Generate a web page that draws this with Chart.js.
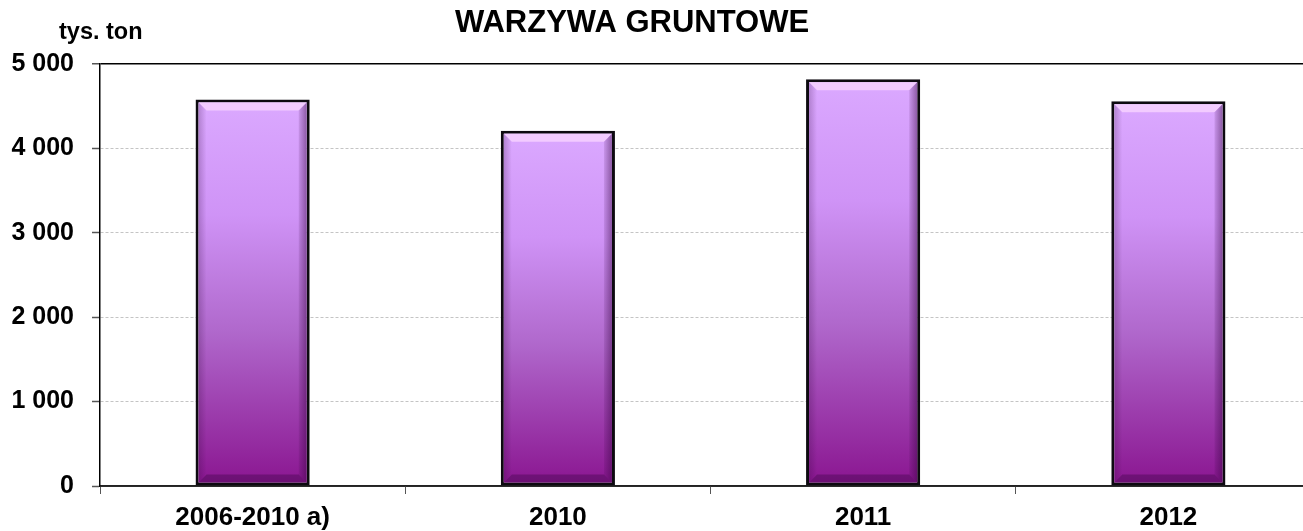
<!DOCTYPE html>
<html lang="pl">
<head>
<meta charset="utf-8">
<title>Warzywa gruntowe</title>
<script src="https://cdn.jsdelivr.net/npm/chart.js@4/dist/chart.umd.min.js"></script>
<style>
  html, body { margin: 0; padding: 0; background: #fff; overflow: hidden; }
  #wrap { width: 1330px; height: 531px; position: relative; }
</style>
</head>
<body>
<div id="wrap"><canvas id="wykres"></canvas></div>
<script>
// ------------------ DANE ------------------
const kategorie = ["2006-2010 a)", "2010", "2011", "2012"];
const produkcja = [4580, 4210, 4820, 4560];   // tys. ton
const osY = [0, 1000, 2000, 3000, 4000, 5000];

const tytul = "WARZYWA GRUNTOWE";
const jednostka = "tys. ton";

const FONT = "'Liberation Sans', Arial, sans-serif";

// format "5 000"
function formatLiczby(v) {
    return String(v).replace(/\B(?=(\d{3})+(?!\d))/g, " ");
}

// gradient dla każdego słupka osobno (od góry słupka do podstawy)
function gradientSlupka(context) {
    const chart = context.chart;
    const y = chart.scales.y;
    if (!y || !context.parsed) return "#b06ad0";
    const top = y.getPixelForValue(context.parsed.y);
    const base = y.getPixelForValue(0);
    if (!isFinite(top) || !isFinite(base) || base <= top) return "#b06ad0";
    const g = chart.ctx.createLinearGradient(0, top, 0, base);
    g.addColorStop(0, "#dba9ff");
    g.addColorStop(0.3, "#cf93f6");
    g.addColorStop(0.6, "#b068cc");
    g.addColorStop(1, "#8a1590");
    return g;
}

// ------------------ PLUGIN: tytuł i jednostka ------------------
const napisy = {
    id: "napisy",
    afterDraw(chart) {
        const ctx = chart.ctx;
        ctx.save();
        ctx.fillStyle = "#000";
        ctx.textBaseline = "middle";
        ctx.textAlign = "center";
        ctx.font = "bold 31px " + FONT;
        ctx.fillText(tytul, 632, 23);
        ctx.textAlign = "left";
        ctx.font = "bold 23.5px " + FONT;
        ctx.fillText(jednostka, 59, 33);
        ctx.restore();
    }
};

// ------------------ PLUGIN: efekt fazy na słupkach ------------------
const faza = {
    id: "faza",
    afterDatasetsDraw(chart) {
        const ctx = chart.ctx;
        const meta = chart.getDatasetMeta(0);
        const b = 3;   // grubość obramowania
        const s = 8;   // szerokość fazy
        meta.data.forEach(bar => {
            const l = bar.x - bar.width / 2 + b;
            const r = bar.x + bar.width / 2 - b;
            const t = bar.y + b;
            const d = bar.base - b;
            ctx.save();
            // góra - jasna, różowawa
            ctx.fillStyle = "rgba(250,215,255,0.75)";
            ctx.beginPath();
            ctx.moveTo(l, t); ctx.lineTo(r, t); ctx.lineTo(r - s, t + s); ctx.lineTo(l + s, t + s);
            ctx.closePath(); ctx.fill();
            // prawa - ciemniejsza, z przejściem
            const gp = ctx.createLinearGradient(r - s, 0, r, 0);
            gp.addColorStop(0, "rgba(50,0,60,0.10)");
            gp.addColorStop(1, "rgba(50,0,60,0.45)");
            ctx.fillStyle = gp;
            ctx.beginPath();
            ctx.moveTo(r, t); ctx.lineTo(r, d); ctx.lineTo(r - s, d - s); ctx.lineTo(r - s, t + s);
            ctx.closePath(); ctx.fill();
            // dół - ciemna
            ctx.fillStyle = "rgba(40,0,50,0.30)";
            ctx.beginPath();
            ctx.moveTo(l, d); ctx.lineTo(r, d); ctx.lineTo(r - s, d - s); ctx.lineTo(l + s, d - s);
            ctx.closePath(); ctx.fill();
            // lewa - delikatny cień przy krawędzi
            const gl = ctx.createLinearGradient(l, 0, l + s, 0);
            gl.addColorStop(0, "rgba(40,0,50,0.22)");
            gl.addColorStop(1, "rgba(40,0,50,0)");
            ctx.fillStyle = gl;
            ctx.beginPath();
            ctx.moveTo(l, t); ctx.lineTo(l, d); ctx.lineTo(l + s, d - s); ctx.lineTo(l + s, t + s);
            ctx.closePath(); ctx.fill();
            ctx.restore();
        });
    }
};

// ------------------ WYKRES ------------------
new Chart(document.getElementById("wykres"), {
    type: "bar",
    data: {
        labels: kategorie,
        datasets: [{
            label: jednostka,
            data: produkcja,
            backgroundColor: gradientSlupka,
            borderColor: "#0d0a10",
            borderWidth: 3,
            borderSkipped: false,
            barPercentage: 0.374,
            categoryPercentage: 1.0
        }]
    },
    options: {
        responsive: true,
        maintainAspectRatio: false,
        animation: false,
        layout: { padding: { top: 64, right: 9, left: 0, bottom: 0 } },
        plugins: {
            legend: { display: false },
            title: { display: false },
            tooltip: { enabled: false }
        },
        scales: {
            x: {
                afterFit(scale) { scale.height = 45; },
                grid: {
                    drawOnChartArea: false,
                    offset: true,
                    tickLength: 8,
                    tickColor: "#555",
                    tickWidth: 1
                },
                border: { color: "#222", width: 1.5 },
                ticks: {
                    color: "#000",
                    padding: 8,
                    font: { family: FONT, size: 26, weight: "bold" }
                }
            },
            y: {
                min: osY[0],
                max: osY[osY.length - 1],
                afterFit(scale) { scale.width = 100; },
                afterBuildTicks(scale) {
                    scale.ticks = osY.map(v => ({ value: v }));
                },
                grid: {
                    color: ctx => ctx.tick && ctx.tick.value === 5000 ? "#000" : (ctx.tick && ctx.tick.value === 0 ? "#333" : "#c4c4c4"),
                    lineWidth: ctx => ctx.tick && ctx.tick.value === 5000 ? 1.5 : 1,
                    tickLength: 8,
                    tickColor: "#555",
                    tickWidth: 1.5
                },
                border: {
                    color: "#000",
                    width: 1.5,
                    dash: ctx => ctx.tick && (ctx.tick.value === 5000 || ctx.tick.value === 0) ? [] : [3, 2]
                },
                ticks: {
                    color: "#000",
                    padding: 18,
                    font: { family: FONT, size: 25, weight: "bold" },
                    callback: v => formatLiczby(v)
                }
            }
        }
    },
    plugins: [napisy, faza]
});
</script>
</body>
</html>
